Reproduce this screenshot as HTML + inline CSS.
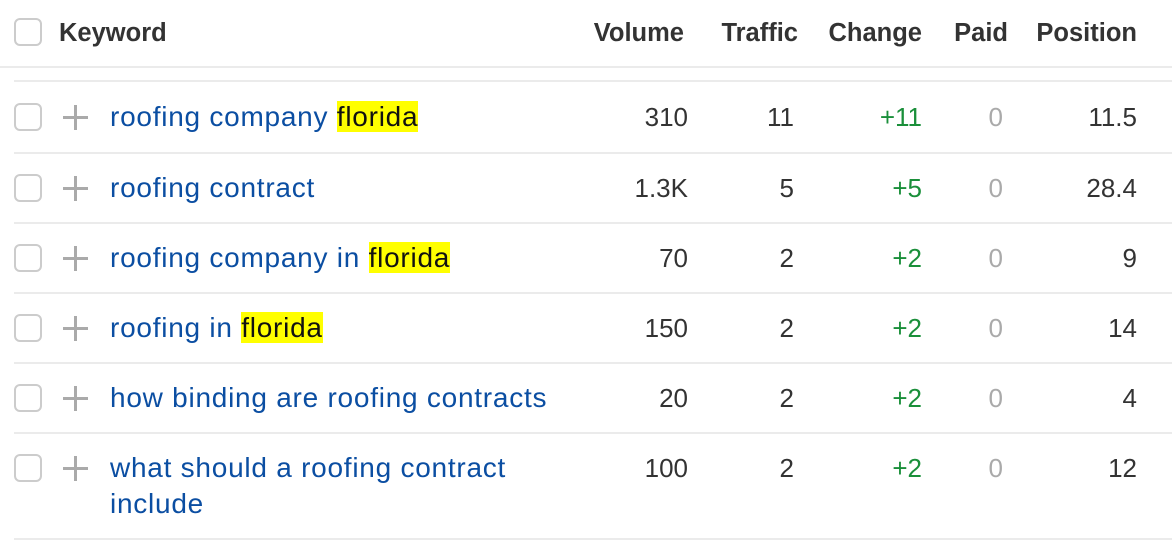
<!DOCTYPE html>
<html><head><meta charset="utf-8"><style>
body{margin:0;width:1172px;height:546px;background:#fff;overflow:hidden;font-family:"Liberation Sans",sans-serif;position:relative}
.a{position:absolute;white-space:nowrap}
.h{font-weight:bold;font-size:25.5px;color:#333;top:19px}
.cb{position:absolute;left:14px;width:24px;height:24px;border:2px solid #ccc;border-radius:6px;box-sizing:content-box}
.ln{position:absolute;height:2px;background:#ebebeb;right:0}
.pl{position:absolute;left:63px;width:25px;height:25px}
.pl:before{content:"";position:absolute;left:0;top:11px;width:25px;height:3px;background:#aaa}
.pl:after{content:"";position:absolute;left:11px;top:0;width:3px;height:25px;background:#aaa}
.kw{left:110px;font-size:28px;letter-spacing:0.75px;color:#0b4ea2;line-height:36px}
.hl{background:#ff0;color:#111}
.n{font-size:26px;color:#333;text-align:right;line-height:36px}
.g{color:#1a8f3a}.z{color:#aaa}
</style></head><body>
<div class="cb" style="top:18px"></div>
<div class="a h" style="left:59px">Keyword</div>
<div class="a h" style="right:488px">Volume</div>
<div class="a h" style="right:374px">Traffic</div>
<div class="a h" style="right:250px">Change</div>
<div class="a h" style="right:164px">Paid</div>
<div class="a h" style="right:35px">Position</div>
<div class="ln" style="left:0;top:66px"></div>
<div class="ln" style="left:14px;top:80px"></div>
<div id="rows"></div>
<script>
const keywords=[["roofing company ","florida"],["roofing contract",""],["roofing company in ","florida"],["roofing in ","florida"],["how binding are roofing contracts",""],["what should a roofing contract<br>include",""]];
const volumes=["310","1.3K","70","150","20","100"];
const traffic=["11","5","2","2","2","2"];
const changes=["+11","+5","+2","+2","+2","+2"];
const paid=["0","0","0","0","0","0"];
const positions=["11.5","28.4","9","14","4","12"];
const tops=[99,170,240,310,380,450];
const lines=[152,222,292,362,432,538];
let h='';
keywords.forEach((k,i)=>{
 const t=tops[i];
 h+=`<div class="cb" style="top:${t+4}px"></div>`;
 h+=`<div class="pl" style="top:${t+6}px"></div>`;
 h+=`<div class="a kw" style="top:${t}px">${k[0]}${k[1]?'<span class="hl">'+k[1]+'</span>':''}</div>`;
 h+=`<div class="a n" style="top:${t}px;right:484px">${volumes[i]}</div>`;
 h+=`<div class="a n" style="top:${t}px;right:378px">${traffic[i]}</div>`;
 h+=`<div class="a n g" style="top:${t}px;right:250px">${changes[i]}</div>`;
 h+=`<div class="a n z" style="top:${t}px;right:169px">${paid[i]}</div>`;
 h+=`<div class="a n" style="top:${t}px;right:35px">${positions[i]}</div>`;
 h+=`<div class="ln" style="left:14px;top:${lines[i]}px"></div>`;
});
document.getElementById('rows').innerHTML=h;
</script>
</body></html>
